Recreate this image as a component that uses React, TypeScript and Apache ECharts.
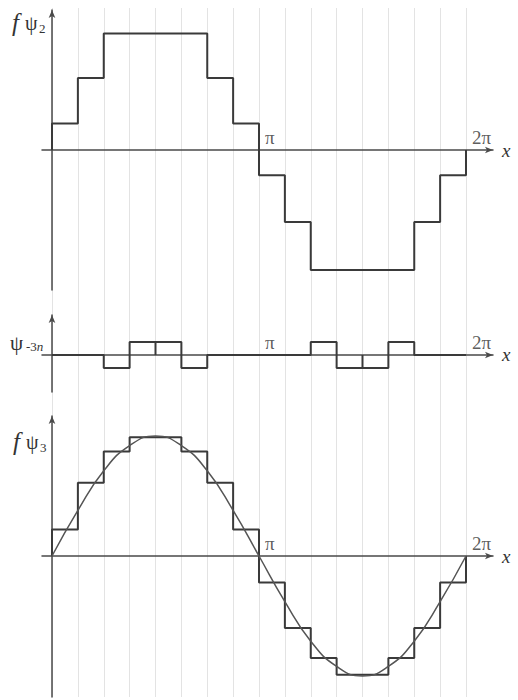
import React, { useEffect, useRef } from "react";
import * as echarts from "echarts";

const PI = Math.PI;
const STEP = PI / 8;

// Step levels per π/8 interval (amplitude 1 ≈ sine peak)
const fPsi2Levels = [0.22, 0.6, 0.97, 0.97, 0.97, 0.97, 0.6, 0.22, -0.21, -0.6, -1.0, -1.0, -1.0, -1.0, -0.6, -0.21];
const psiMinus3nLevels = [0, 0, -1, 1, 1, -1, 0, 0, 0, 0, 1, -1, -1, 1, 0, 0];
const fPsi3Levels = [0.22, 0.61, 0.87, 0.99, 0.99, 0.87, 0.61, 0.22, -0.22, -0.6, -0.85, -0.99, -0.99, -0.85, -0.6, -0.22];
// Smooth curve read at every π/8
const curveValues = [0, 0.38, 0.71, 0.92, 1, 0.92, 0.71, 0.38, 0, -0.38, -0.71, -0.92, -1, -0.92, -0.71, -0.38, 0];
const tickValues = [PI, 2 * PI];
const tickLabels = ["π", "2π"];

const SERIF = "Liberation Serif";
const INK = "#333";
const AXIS = "#4a4a4a";

function stepPath(levels: number[]) {
  const pts: number[][] = [[0, 0]];
  levels.forEach((v, i) => {
    pts.push([i * STEP, v], [(i + 1) * STEP, v]);
  });
  pts.push([levels.length * STEP, 0]);
  return pts;
}

function barPath(levels: number[]) {
  const pts: number[][] = [];
  levels.forEach((v, i) => {
    pts.push([i * STEP, 0], [i * STEP, v], [(i + 1) * STEP, v], [(i + 1) * STEP, 0]);
  });
  return pts;
}

const X_MIN = -0.1518;
const X_MAX = 6.693;

function mainXAxis(gridIndex: number) {
  return {
    type: "value",
    gridIndex,
    min: X_MIN,
    max: X_MAX,
    name: "x",
    nameLocation: "end",
    nameGap: 9,
    nameTextStyle: { fontFamily: SERIF, fontStyle: "italic", fontSize: 19, color: INK, verticalAlign: "middle", padding: [0, 0, 2, 0] },
    axisLine: { show: true, onZero: true, symbol: ["none", "arrow"], symbolSize: [5, 8], lineStyle: { color: AXIS, width: 1.5 } },
    axisTick: { show: false },
    axisLabel: { show: false },
    splitLine: { show: false },
  };
}

function mainYAxis(gridIndex: number, min: number, max: number) {
  return {
    type: "value",
    gridIndex,
    min,
    max,
    axisLine: { show: true, onZero: true, symbol: ["none", "arrow"], symbolSize: [5, 8], lineStyle: { color: AXIS, width: 1.5 } },
    axisTick: { show: false },
    axisLabel: { show: false },
    splitLine: { show: false },
  };
}

function tickLabelSeries(idx: number) {
  return {
    type: "scatter",
    xAxisIndex: idx,
    yAxisIndex: idx,
    symbolSize: 0,
    silent: true,
    itemStyle: { color: INK },
    data: tickValues.map((v, i) => ({ value: [v, 0], name: tickLabels[i] })),
    label: {
      show: true,
      formatter: (p: any) => p.name,
      position: [6, -22],
      fontFamily: SERIF,
      fontSize: 19,
      color: INK,
    },
    z: 5,
  };
}

function stepSeries(idx: number, data: number[][], width = 2) {
  return {
    type: "line",
    xAxisIndex: idx,
    yAxisIndex: idx,
    data,
    showSymbol: false,
    symbol: "none",
    silent: true,
    lineStyle: { color: "#3a3a3a", width },
    z: 3,
  };
}

export default function App() {
  const ref = useRef<HTMLDivElement>(null);
  useEffect(() => {
    if (!ref.current) return;
    const chart = echarts.init(ref.current, null, { renderer: "svg" });
    const txt = (text: string, x: number, y: number, size: number, italic = false) => ({
      type: "text",
      x,
      y,
      silent: true,
      style: {
        text,
        fill: INK,
        fontFamily: SERIF,
        fontSize: size,
        fontStyle: italic ? "italic" : "normal",
        verticalAlign: "middle",
        align: "left",
      },
    });
    chart.setOption({
      animation: false,
      backgroundColor: "#fff",
      grid: [
        { left: 52, top: 8, width: 414, height: 689 },
        { left: 42, top: 10, width: 451, height: 280 },
        { left: 42, top: 315, width: 451, height: 77 },
        { left: 42, top: 416, width: 451, height: 281 },
      ],
      xAxis: [
        {
          type: "value",
          gridIndex: 0,
          min: 0,
          max: 2 * PI,
          interval: STEP,
          axisLine: { show: false },
          axisTick: { show: false },
          axisLabel: { show: false },
          splitLine: { show: true, lineStyle: { color: "#e3e3e3", width: 1 } },
        },
        mainXAxis(1),
        mainXAxis(2),
        mainXAxis(3),
      ],
      yAxis: [
        { type: "value", gridIndex: 0, min: 0, max: 1, show: false, splitLine: { show: false } },
        mainYAxis(1, -1.1667, 1.1667),
        mainYAxis(2, -2.85, 3.08),
        mainYAxis(3, -1.175, 1.1667),
      ],
      series: [
        { type: "line", xAxisIndex: 0, yAxisIndex: 0, data: [], symbol: "none" },
        stepSeries(1, stepPath(fPsi2Levels)),
        stepSeries(2, barPath(psiMinus3nLevels)),
        stepSeries(3, stepPath(fPsi3Levels)),
        {
          type: "line",
          xAxisIndex: 3,
          yAxisIndex: 3,
          data: curveValues.map((v, i) => [i * STEP, v]),
          smooth: 0.5,
          symbol: "none",
          silent: true,
          lineStyle: { color: "#555", width: 1.5 },
          z: 4,
        },
        tickLabelSeries(1),
        tickLabelSeries(2),
        tickLabelSeries(3),
      ],
      graphic: [
        txt("f", 12, 22, 25, true),
        txt("ψ", 25, 23, 20),
        txt("2", 39, 28, 13),
        txt("ψ", 10, 343, 21),
        {
          type: "text",
          x: 26,
          y: 346,
          silent: true,
          style: {
            text: "{a|-3}{b|n}",
            verticalAlign: "middle",
            rich: {
              a: { fontFamily: SERIF, fontSize: 13, fill: INK, color: INK },
              b: { fontFamily: SERIF, fontSize: 13, fontStyle: "italic", fill: INK, color: INK },
            },
          },
        },
        txt("f", 13, 441, 25, true),
        txt("ψ", 26, 442, 20),
        txt("3", 40, 447, 13),
      ],
    });
    return () => chart.dispose();
  }, []);
  return <div ref={ref} style={{ position: "fixed", left: 0, top: 0, width: 518, height: 700 }} />;
}
